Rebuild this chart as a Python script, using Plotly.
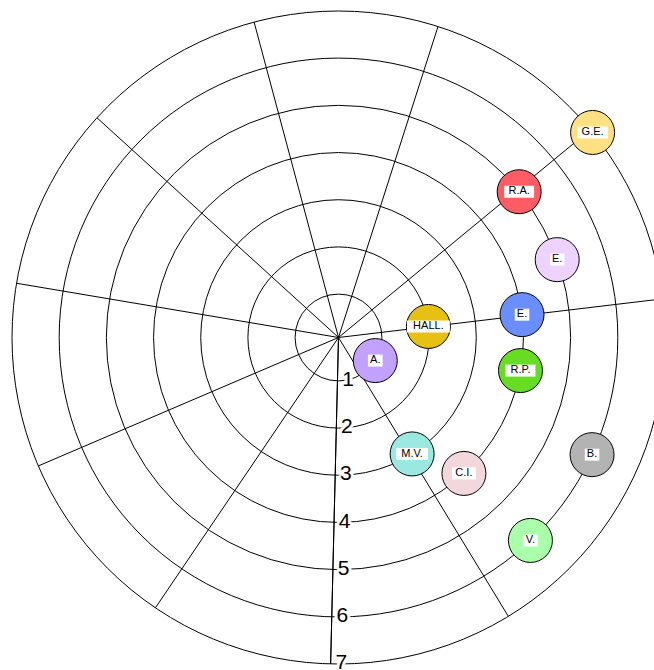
import plotly.graph_objects as go

# ---- data ----
names = ["A.", "HALL.", "M.V.", "E.", "R.P.", "C.I.", "R.A.", "E.", "B.", "V.", "G.E."]
radius = [1, 2, 3, 4, 4, 4, 5, 5, 6, 6, 7]
angle_deg = [327.9, 7.0, 302.3, 7.1, 349.7, 312.7, 38.9, 19.6, 335.2, 313.4, 38.9]
colors = ["#C3A1FF", "#E6C012", "#9BE8E0", "#6B8EFF", "#66DD22", "#F2D7DC",
          "#FF5C66", "#EED2FF", "#B3B3B3", "#AAFFAA", "#FFE082"]
radial_ticks = [1, 2, 3, 4, 5, 6, 7]
radial_ticktext = ["1", "2", "3", "4", "5", "6", "7"]
radial_range = [0.08, 7]
n_spokes = 11
spoke_start = 6.8
radial_axis_angle = 268.62  # lies on the 9th spoke

# label box widths (px) for 11px Arial text
label_w = [10.5, 30.6, 22.6, 10.4, 21.4, 17.1, 21.4, 10.4, 10.4, 10.4, 22.0]

halo = ", ".join(f"white {dx}px {dy}px 1px" for dx, dy in
                 [(3, 0), (-3, 0), (0, 3), (0, -3), (2, 2), (-2, 2), (2, -2), (-2, -2)])
FONT = "Arial, Liberation Sans, sans-serif"

fig = go.Figure()
# radial axis labels, drawn along the radial axis line
fig.add_trace(go.Scatterpolar(
    r=radial_ticks, theta=[radial_axis_angle] * len(radial_ticks),
    mode="markers+text", cliponaxis=False,
    marker=dict(size=6, opacity=0),
    text=radial_ticktext, textposition="middle right",
    textfont=dict(family=FONT, size=21, color="black", shadow=halo),
    hoverinfo="skip", showlegend=False))
# nodes
fig.add_trace(go.Scatterpolar(
    r=radius, theta=angle_deg, mode="markers", cliponaxis=False,
    marker=dict(size=44, color=colors, opacity=1, line=dict(color="black", width=1)),
    hoverinfo="text", text=names, showlegend=False))
# white boxes behind node labels
fig.add_trace(go.Scatterpolar(
    r=radius, theta=angle_deg, mode="markers", cliponaxis=False,
    marker=dict(symbol="line-ew", size=label_w, color="white", opacity=1,
                line=dict(color="white", width=12)),
    hoverinfo="skip", showlegend=False))
# node labels
fig.add_trace(go.Scatterpolar(
    r=radius, theta=angle_deg, mode="text", cliponaxis=False,
    text=names, textposition="middle center",
    textfont=dict(family=FONT, size=11, color="black"),
    hoverinfo="skip", showlegend=False))

fig.update_layout(
    width=680, height=680,
    margin=dict(l=12, r=15, t=11, b=16),
    paper_bgcolor="white",
    polar=dict(
        domain=dict(x=[0, 1], y=[0, 1]),
        bgcolor="white",
        angularaxis=dict(
            rotation=0, direction="counterclockwise", thetaunit="degrees",
            tickmode="linear", tick0=spoke_start, dtick=360 / n_spokes,
            showticklabels=False, ticks="",
            showgrid=True, gridcolor="black", gridwidth=1,
            showline=True, linecolor="black", linewidth=1,
            layer="below traces"),
        radialaxis=dict(
            range=radial_range, tickmode="array", tickvals=radial_ticks,
            ticktext=radial_ticktext,
            angle=radial_axis_angle, showticklabels=False, ticks="",
            showgrid=True, gridcolor="black", gridwidth=1,
            showline=True, linecolor="black", linewidth=1,
            layer="below traces"),
    ),
)

fig.write_html("out.html", config={"displayModeBar": False},
               post_script="document.body.style.margin='0';document.body.style.overflow='hidden';"
                           "document.documentElement.style.overflow='hidden';")
